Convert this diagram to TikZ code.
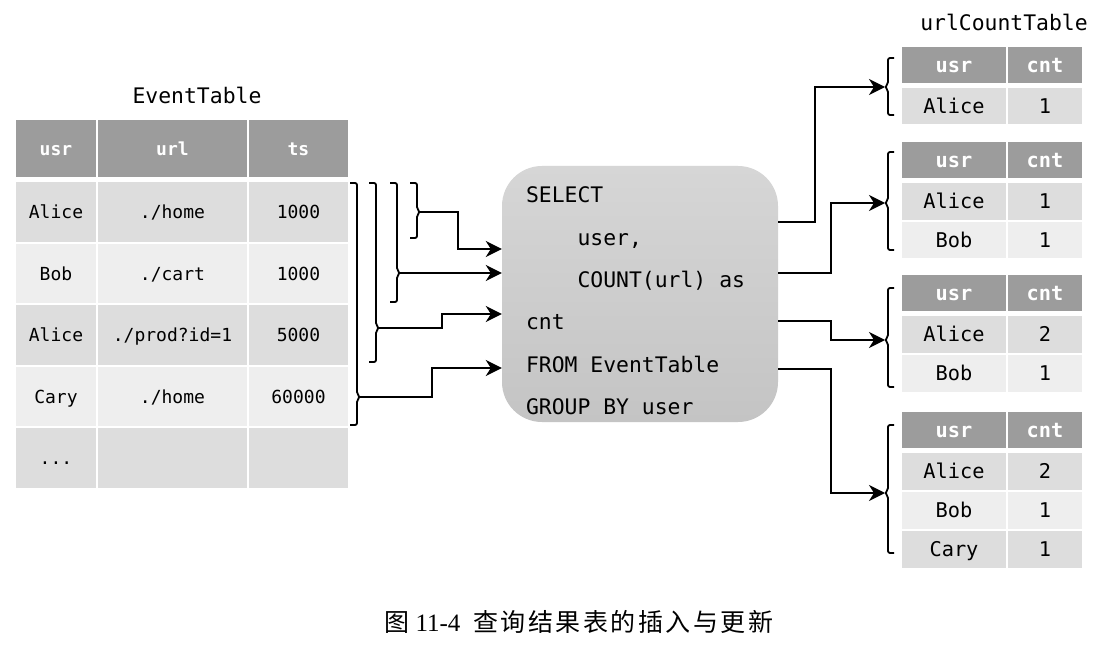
\documentclass[tikz,border=0pt]{standalone}
\usepackage{fontspec}
\setmainfont{Liberation Serif}
\setmonofont{DejaVu Sans Mono}[WordSpace={1,0,0}]
\newfontfamily\cjk{Noto Sans CJK SC}[LetterSpace=10]
\usepackage{tikz}
\usetikzlibrary{positioning,arrows.meta,calc,matrix}
\definecolor{hdrgray}{RGB}{156,156,156}
\definecolor{rowdark}{RGB}{221,221,221}
\definecolor{rowlight}{RGB}{238,238,238}
\definecolor{qtop}{RGB}{214,214,214}
\definecolor{qbot}{RGB}{196,196,196}
\tikzset{
  cellbase/.style={inner sep=0pt, outer sep=0pt, anchor=center},
  darkcell/.style={cellbase, fill=rowdark},
  lightcell/.style={cellbase, fill=rowlight},
  hd/.style={fill=hdrgray, text=white, execute at begin node=\bfseries},
  tabbase/.style={matrix of nodes, ampersand replacement=\amp, nodes in empty cells,
                  anchor=north west, inner sep=0pt, outer sep=0pt,
                  every even row/.style={nodes={darkcell}},
                  every odd row/.style={nodes={lightcell}}},
  evtab/.style={tabbase, row sep=2pt, column sep=2pt,
                nodes={font=\fontsize{18}{18}\selectfont\ttfamily, minimum height=59.5pt,
                       text height=13.7pt, text depth=0pt},
                row 1/.style={nodes={minimum height=57pt}},
                column 1/.style={nodes={minimum width=80pt}},
                column 2/.style={nodes={minimum width=149pt}},
                column 3/.style={nodes={minimum width=99pt}}},
  rtab/.style={tabbase, row sep=2.5pt, column sep=2pt,
               nodes={font=\fontsize{20.3}{20.3}\selectfont\ttfamily, minimum height=36.5pt,
                      text height=15.4pt, text depth=0pt},
               row 1/.style={nodes={minimum height=36pt}},
               column 1/.style={nodes={minimum width=104pt}},
               column 2/.style={nodes={minimum width=74pt}}},
  ttl/.style={font=\fontsize{21.4}{21.4}\selectfont\ttfamily, inner sep=0pt},
  qbox/.style={rounded corners=40pt, top color=qtop, bottom color=qbot,
               minimum height=256pt, text width=228pt, inner xsep=24pt, inner ysep=0pt,
               align=left, font=\fontsize{21.4}{42.4}\selectfont\ttfamily},
  brk/.style={line width=1.8pt, rounded corners=2pt},
  conn/.style={-{Stealth[length=16pt, width=16pt, inset=5pt]}, line width=1.8pt},
  captxt/.style={font=\fontsize{25}{25}\selectfont, inner sep=0pt}
}

\begin{document}
\begin{tikzpicture}[x=1pt, y=-1pt]
\path[fill=white, use as bounding box] (0,0) rectangle (1116,652);

% source table
\node[ttl] (evt) at (197,95) {EventTable};
\matrix (ev) [evtab, at={(16,120)}] {
  |[hd]| usr \amp |[hd]| url \amp |[hd]| ts \\[3pt]
  Alice \amp ./home \amp 1000 \\
  Bob \amp ./cart \amp 1000 \\
  Alice \amp ./prod?id=1 \amp 5000 \\
  Cary \amp ./home \amp 60000 \\
  ... \amp \amp \\
};

% query
\node[qbox] (qry) at (640,294) {\rule{0pt}{29.6pt}SELECT\\
  \hphantom{0000}user,\\
  \hphantom{0000}COUNT(url)\hphantom{0}as\\
  cnt\\
  FROM\hphantom{0}EventTable\\
  GROUP\hphantom{0}BY\hphantom{0}user};

% result tables
\node[ttl] (uct) at (1004,22) {urlCountTable};
\matrix (t1) [rtab, at={(902,47)}] {
  |[hd]| usr \amp |[hd]| cnt \\[2.5pt]
  Alice \amp 1 \\
};
\matrix (t2) [rtab, at={(902,142)}] {
  |[hd]| usr \amp |[hd]| cnt \\[2.5pt]
  Alice \amp 1 \\
  Bob \amp 1 \\
};
\matrix (t3) [rtab, at={(902,275)}] {
  |[hd]| usr \amp |[hd]| cnt \\[2.5pt]
  Alice \amp 2 \\
  Bob \amp 1 \\
};
\matrix (t4) [rtab, at={(902,412)}] {
  |[hd]| usr \amp |[hd]| cnt \\[2.5pt]
  Alice \amp 2 \\
  Bob \amp 1 \\
  Cary \amp 1 \\
};

% brackets on the input rows
\draw[brk] (350,183) -- (357,183) -- (357,394) -- (360,397) coordinate (b1) -- (357,400) -- (357,425) -- (350,425);
\draw[brk] (369,183) -- (376,183) -- (376,325) -- (379,328) coordinate (b2) -- (376,331) -- (376,362) -- (369,362);
\draw[brk] (390,183) -- (397,183) -- (397,270) -- (400,273) coordinate (b3) -- (397,276) -- (397,302) -- (390,302);
\draw[brk] (410,183) -- (417,183) -- (417,209) -- (420,212) coordinate (b4) -- (417,215) -- (417,238) -- (410,238);

% brackets on the results
\draw[brk] (894,58) -- (888,58) -- (888,84) -- (885,87) coordinate (r1) -- (888,90) -- (888,115) -- (894,115);
\draw[brk] (894,152) -- (888,152) -- (888,200) -- (885,203) coordinate (r2) -- (888,206) -- (888,250) -- (894,250);
\draw[brk] (894,288) -- (888,288) -- (888,337) -- (885,340) coordinate (r3) -- (888,343) -- (888,387) -- (894,387);
\draw[brk] (894,425) -- (888,425) -- (888,490) -- (885,493) coordinate (r4) -- (888,496) -- (888,553) -- (894,553);

% into the query
\draw[conn] (b4) -- ++(38,0) |- (qry.west |- 0,249);
\draw[conn] (b3) -- (qry.west |- b3);
\draw[conn] (b2) -- ++(63,0) |- (qry.west |- 0,314);
\draw[conn] (b1) -- ++(72,0) |- (qry.west |- 0,368);

% out of the query
\draw[conn] (qry.east |- 0,222) -- ++(37,0) |- (r1);
\draw[conn] (qry.east |- 0,273) -- ++(53,0) |- (r2);
\draw[conn] (qry.east |- 0,321) -- ++(53,0) |- (r3);
\draw[conn] (qry.east |- 0,369) -- ++(53,0) |- (r4);

\node[captxt] (fig) at (579,622) {{\cjk 图}\hspace{6pt}11-4\hspace{13pt}{\cjk 查询结果表的插入与更新}};
\end{tikzpicture}
\end{document}
